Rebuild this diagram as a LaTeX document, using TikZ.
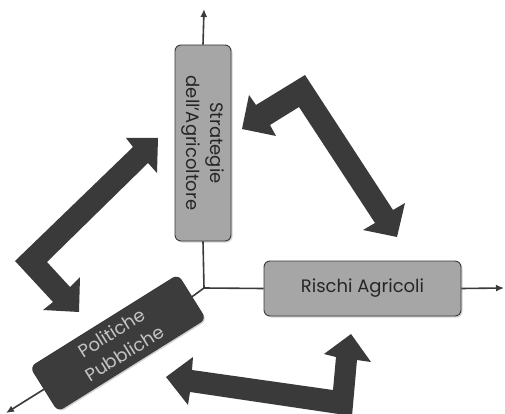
\documentclass[tikz,border=0pt]{standalone}
\usepackage{fontspec}
\setmainfont{Poppins}
\usetikzlibrary{arrows.meta,shadows}
\definecolor{boxgray}{HTML}{A6A6A6}
\definecolor{boxdark}{HTML}{3C3C3C}
\definecolor{edgegray}{HTML}{3A3A3A}
\definecolor{arrowdark}{HTML}{3A3A3A}
\definecolor{lighttext}{HTML}{C4C4C4}
\definecolor{darktext}{HTML}{262626}
\tikzset{
  mybox/.style={rectangle, rounded corners=6pt, draw=edgegray, line width=0.9pt,
    align=center, font=\fontsize{18}{24}\selectfont, inner sep=0pt,
    drop shadow={opacity=0.35, shadow xshift=1.5pt, shadow yshift=-1.5pt}},
  lightbox/.style={mybox, fill=boxgray, text=darktext},
  darkbox/.style={mybox, fill=boxdark, text=lighttext},
  link/.style={draw=edgegray, line width=1.6pt},
  linkarrow/.style={link, -{Latex[length=8pt,width=7pt]}},
  blockarrow/.style={fill=arrowdark, draw=none}
}
\begin{document}
\begin{tikzpicture}[x=1pt,y=-1pt]
\useasboundingbox (0,0) rectangle (505,414);

% block arrows
\fill[blockarrow] (305,75) -- (256,105) -- (249,95) -- (242,129) -- (276,136) -- (270,125)
  -- (299,107) -- (375,223) -- (363,230) -- (397,237) -- (405,203) -- (393,210) -- cycle;
\fill[blockarrow] (158,138) -- (126,138) -- (133,147) -- (15,261) -- (53,302) -- (43,310)
  -- (79,312) -- (80,277) -- (70,287) -- (47,262) -- (148,163) -- (157,173) -- cycle;
\fill[blockarrow] (166,377) -- (193,357) -- (192,370) -- (333,390) -- (336,357) -- (324,354)
  -- (351,334) -- (371,362) -- (357,360) -- (352,416) -- (190,392) -- (188,405) -- cycle;

% nodes
\coordinate (J) at (204,288);
\coordinate (T) at (204,9);
\coordinate (E) at (504,288);
\coordinate (BL) at (6,413);

\node[lightbox, rotate=-90, minimum width=196pt, minimum height=56pt] (S) at (203,143)
  {Strategie\\dell'Agricoltore};
\node[lightbox, minimum width=197pt, minimum height=55pt] (R) at (362.5,288.5)
  {Rischi Agricoli};
\node[darkbox, rotate=32, minimum width=174pt, minimum height=52pt] (P) at (118,343)
  {Politiche\\Pubbliche};

% connectors
\draw[linkarrow] (S.west) -- (T);
\draw[link] (S.east) -- (J);
\draw[link] (J) -- (R.west);
\draw[linkarrow] (R.east) -- (E);
\draw[link] (J) -- (P.east);
\draw[linkarrow] (P.west) -- (BL);
\end{tikzpicture}
\end{document}
